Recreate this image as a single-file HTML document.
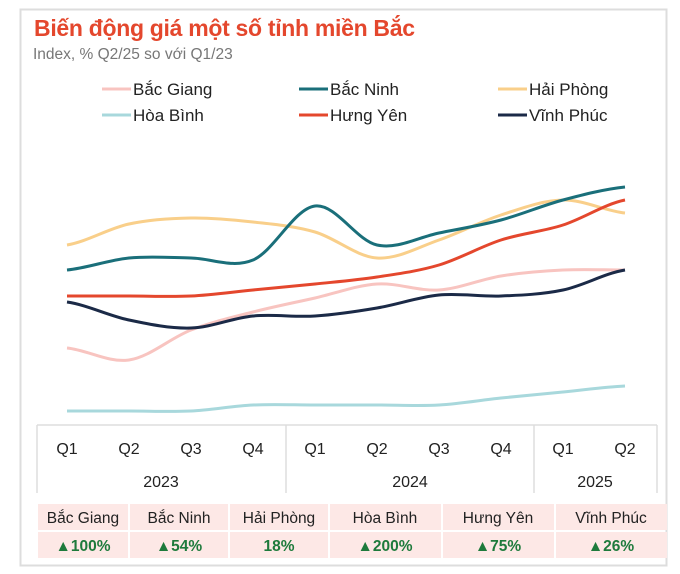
<!DOCTYPE html>
<html><head><meta charset="utf-8"><style>
body{margin:0;width:680px;height:574px;background:#fff;font-family:"Liberation Sans",sans-serif;overflow:hidden}
svg{position:absolute;left:0;top:0}
</style></head><body>
<svg width="680" height="574" viewBox="0 0 680 574" id="s">
<rect x="20.5" y="9.5" width="646" height="556" fill="#fff" stroke="#ddd" stroke-width="2"/>
<text x="34" y="36" font-size="23" font-weight="bold" fill="#e4472d" font-family="Liberation Sans Narrow, Liberation Sans, sans-serif" textLength="381">Biến động giá một số tỉnh miền Bắc</text>
<text x="33" y="59" font-size="15.5" fill="#777">Index, % Q2/25 so với Q1/23</text>
<g font-size="17" fill="#222">
<line x1="102" y1="89" x2="131" y2="89" stroke="#f8c4c0" stroke-width="3"/><text x="133" y="95">Bắc Giang</text>
<line x1="299" y1="89" x2="328" y2="89" stroke="#1a6f7a" stroke-width="3"/><text x="330" y="95">Bắc Ninh</text>
<line x1="498" y1="89" x2="527" y2="89" stroke="#f9cf8a" stroke-width="3"/><text x="529" y="95">Hải Phòng</text>
<line x1="102" y1="115" x2="131" y2="115" stroke="#a8d8dc" stroke-width="3"/><text x="133" y="121">Hòa Bình</text>
<line x1="299" y1="115" x2="328" y2="115" stroke="#e4472d" stroke-width="3"/><text x="330" y="121">Hưng Yên</text>
<line x1="498" y1="115" x2="527" y2="115" stroke="#1b2a47" stroke-width="3"/><text x="529" y="121">Vĩnh Phúc</text>
</g>
<g id="lines" fill="none" stroke-width="3"></g>
<g stroke="#ddd" stroke-width="1.5">
<line x1="37" y1="425" x2="657" y2="425"/>
<line x1="37" y1="425" x2="37" y2="493"/>
<line x1="286" y1="425" x2="286" y2="493"/>
<line x1="534" y1="425" x2="534" y2="493"/>
<line x1="657" y1="425" x2="657" y2="493"/>
</g>
<g font-size="16" fill="#222" text-anchor="middle">
<text x="67" y="454">Q1</text><text x="129" y="454">Q2</text><text x="191" y="454">Q3</text><text x="253" y="454">Q4</text>
<text x="315" y="454">Q1</text><text x="377" y="454">Q2</text><text x="439" y="454">Q3</text><text x="501" y="454">Q4</text>
<text x="563" y="454">Q1</text><text x="625" y="454">Q2</text>
<text x="161" y="487">2023</text><text x="410" y="487">2024</text><text x="595" y="487">2025</text>
</g>
<g fill="#fde8e6">
<rect x="38" y="504" width="90" height="26"/><rect x="130" y="504" width="98" height="26"/><rect x="230" y="504" width="98" height="26"/><rect x="330" y="504" width="111" height="26"/><rect x="443" y="504" width="111" height="26"/><rect x="556" y="504" width="111" height="26"/>
<rect x="38" y="532" width="90" height="26"/><rect x="130" y="532" width="98" height="26"/><rect x="230" y="532" width="98" height="26"/><rect x="330" y="532" width="111" height="26"/><rect x="443" y="532" width="111" height="26"/><rect x="556" y="532" width="111" height="26"/>
</g>
<g font-size="15.5" fill="#222" text-anchor="middle">
<text x="83" y="523">Bắc Giang</text><text x="179" y="523">Bắc Ninh</text><text x="279" y="523">Hải Phòng</text><text x="385" y="523">Hòa Bình</text><text x="498" y="523">Hưng Yên</text><text x="611" y="523">Vĩnh Phúc</text>
</g>
<g font-size="15.5" font-weight="bold" fill="#1e7a3c" text-anchor="middle">
<text x="83" y="551">▲100%</text><text x="179" y="551">▲54%</text><text x="279" y="551">18%</text><text x="385" y="551">▲200%</text><text x="498" y="551">▲75%</text><text x="611" y="551">▲26%</text>
</g>
</svg>
<script>
var xs=[];for(var i=0;i<10;i++)xs.push(67+62*i);
var data=[
["#a8d8dc",[411,411,411,405,405,405,405,398,392,386]],
["#f8c4c0",[348,360,330,312,298,284,290,276,270,270]],
["#f9cf8a",[245,224,218,222,232,258,240,215,200,213]],
["#1b2a47",[302,320,328,316,316,308,295,296,290,270]],
["#e4472d",[296,296,296,290,284,277,265,240,225,200]],
["#1a6f7a",[270,258,258,260,206,245,233,220,200,187]]];
var g=document.getElementById('lines');
data.forEach(function(d){var y=d[1],p="M"+xs[0]+","+y[0];
for(var i=0;i<9;i++){var y0=y[Math.max(i-1,0)],y3=y[Math.min(i+2,9)];
var c1=y[i]+(y[i+1]-y0)/6,c2=y[i+1]-(y3-y[i])/6;
p+=" C"+(xs[i]+62/3)+","+c1+" "+(xs[i+1]-62/3)+","+c2+" "+xs[i+1]+","+y[i+1];}
var e=document.createElementNS("http://www.w3.org/2000/svg","path");e.setAttribute("d",p);e.setAttribute("stroke",d[0]);g.appendChild(e);});
</script>
</body></html>
